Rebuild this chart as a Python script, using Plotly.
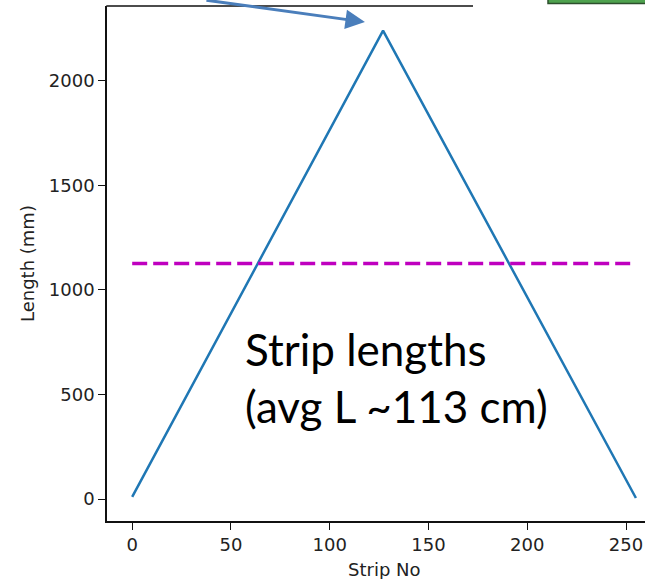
import plotly.graph_objects as go

# Data
strip_no = [0, 127, 255]
length_mm = [10, 2240, 5]
avg_strips = [0, 255]
avg_length = [1127, 1127]
x_ticks = [0, 50, 100, 150, 200, 250]
y_ticks = [0, 500, 1000, 1500, 2000]
label_text = "Strip lengths<br>(avg L ~113 cm)"

W, H = 645, 579
L, T, B, R = 107, 6, 58, 0
pw = W - L - R
ph = H - T - B

def px_x(p):
    return (p - L) / pw

def px_y(p):
    return (H - B - p) / ph

fig = go.Figure()
fig.add_trace(go.Scatter(x=strip_no, y=length_mm, mode="lines",
                         line=dict(color="#1f77b4", width=2.5), showlegend=False))
fig.add_trace(go.Scatter(x=avg_strips, y=avg_length, mode="lines",
                         line=dict(color="#bf00bf", width=3.5, dash="15px,6px"),
                         showlegend=False))

tick_font = dict(family="DejaVu Sans", size=18, color="#222222")
fig.update_layout(
    width=W, height=H,
    margin=dict(l=L, r=R, t=T, b=B, pad=0),
    plot_bgcolor="white", paper_bgcolor="white",
    xaxis=dict(range=[-12.75, 259.6], tickvals=x_ticks, showgrid=False, zeroline=False,
               showline=True, linecolor="#111111", linewidth=1.5,
               ticks="outside", ticklen=7, tickwidth=1.4, tickcolor="#111111",
               tickfont=tick_font),
    yaxis=dict(range=[-105, 2358], tickvals=y_ticks, showgrid=False, zeroline=False,
               showline=True, linecolor="#111111", linewidth=1.5,
               ticks="outside", ticklen=7, tickwidth=1.4, tickcolor="#111111",
               tickfont=tick_font),
)

# top spine (partially hidden in reference)
fig.add_shape(type="line", xref="paper", yref="paper", x0=px_x(106.3), x1=px_x(473),
              y0=1, y1=1, line=dict(color="#111111", width=1.5))
# green box at top right
fig.add_shape(type="rect", xref="paper", yref="paper", x0=px_x(548), x1=px_x(660),
              y0=px_y(3.5), y1=px_y(-10), fillcolor="#4ea24e",
              line=dict(color="#2d4f2d", width=1.5))

# axis titles
fig.add_annotation(text="Strip No", xref="paper", yref="paper", x=px_x(384), y=px_y(569),
                   showarrow=False, font=dict(family="DejaVu Sans", size=18, color="#222222"),
                   xanchor="center", yanchor="middle")
fig.add_annotation(text="Length (mm)", xref="paper", yref="paper", x=px_x(27), y=px_y(264),
                   showarrow=False, textangle=-90,
                   font=dict(family="DejaVu Sans", size=18, color="#222222"),
                   xanchor="center", yanchor="middle")

# big text label
fig.add_annotation(text=label_text, xref="paper", yref="paper", x=px_x(243), y=px_y(377),
                   showarrow=False, align="left", xanchor="left", yanchor="middle",
                   font=dict(family="Lato", size=44, color="#000000"))

# arrow pointing to the peak
fig.add_annotation(x=(365 - 132.3) / 1.975, y=(499 - 22) / 0.2091, xref="x", yref="y",
                   text="", showarrow=True, ax=-160, ay=-35, axref="pixel", ayref="pixel",
                   arrowhead=2, arrowsize=1.3, arrowwidth=3, arrowcolor="#4a7ebb",
                   standoff=0)

fig.write_html("out.html")
